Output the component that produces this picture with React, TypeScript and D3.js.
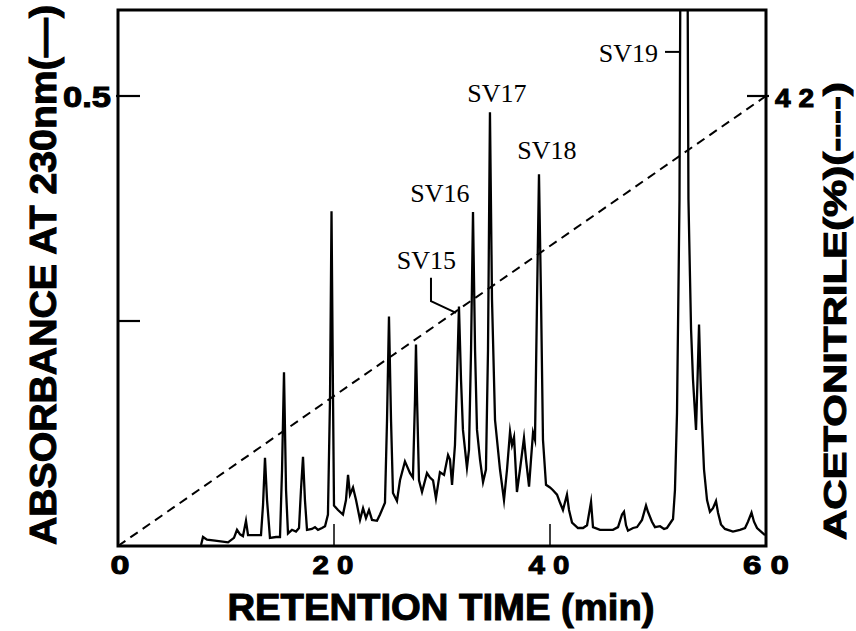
import React from "react";
import * as d3 from "d3";

// Chromatogram trace (retention time in min, absorbance at 230 nm)
const times = [
  7.69, 7.87, 8.24, 8.98, 10.19, 10.74, 11.02, 11.3, 11.57, 11.85, 12.04, 12.69, 13.24, 13.43, 13.61, 13.8,
  14.07, 14.63, 15.0, 15.19, 15.37, 15.56, 15.74, 16.11, 16.48, 16.76, 16.94, 17.13, 17.31, 17.5, 17.96,
  18.24, 18.52, 18.89, 19.17, 19.44, 19.63, 19.77, 19.91, 20.0, 20.37, 20.83, 21.11, 21.3, 21.48, 21.76,
  22.04, 22.41, 22.69, 22.96, 23.24, 23.52, 23.98, 24.26, 24.72, 24.91, 25.09, 25.28, 25.46, 25.83, 26.11,
  26.57, 27.04, 27.31, 27.5, 27.59, 27.69, 27.87, 28.15, 28.61, 28.89, 29.17, 29.44, 29.81, 30.19, 30.56,
  30.74, 30.93, 31.2, 31.39, 31.57, 31.76, 31.94, 32.31, 32.5, 32.69, 32.87, 33.06, 33.24, 33.52, 33.8,
  34.07, 34.26, 34.44, 34.63, 34.91, 35.37, 35.74, 36.02, 36.3, 36.48, 36.67, 36.94, 37.22, 37.59, 37.78,
  38.06, 38.24, 38.43, 38.61, 38.8, 38.98, 39.17, 39.35, 39.63, 40.0, 40.28, 40.65, 40.93, 41.2, 41.57,
  41.76, 42.04, 42.59, 43.06, 43.43, 43.8, 43.98, 44.63, 45.28, 45.83, 46.3, 46.67, 46.85, 47.04, 47.22,
  47.69, 48.06, 48.52, 48.89, 49.07, 49.44, 49.72, 50.19, 50.56, 50.83, 51.11, 51.39, 51.57, 51.76, 51.99,
  52.08, 52.73, 52.82, 52.96, 53.06, 53.24, 53.52, 53.66, 53.8, 53.94, 54.07, 54.26, 54.54, 54.81, 55.09,
  55.37, 55.56, 55.83, 56.2, 56.94, 57.59, 58.06, 58.33, 58.66, 58.89, 59.17, 59.54, 59.91,
];
const absorbance = [
  0.001, 0.01, 0.007, 0.006, 0.004, 0.009, 0.018, 0.013, 0.011, 0.028, 0.012, 0.012, 0.012, 0.046, 0.098, 0.051,
  0.009, 0.01, 0.01, 0.085, 0.193, 0.062, 0.014, 0.018, 0.016, 0.02, 0.062, 0.099, 0.051, 0.018, 0.019,
  0.021, 0.018, 0.02, 0.022, 0.035, 0.163, 0.372, 0.163, 0.045, 0.04, 0.035, 0.051, 0.079, 0.057, 0.065,
  0.051, 0.029, 0.042, 0.031, 0.04, 0.029, 0.028, 0.035, 0.048, 0.14, 0.255, 0.14, 0.059, 0.05, 0.073,
  0.094, 0.081, 0.076, 0.163, 0.224, 0.163, 0.073, 0.06, 0.081, 0.076, 0.073, 0.053, 0.082, 0.079, 0.101,
  0.096, 0.068, 0.112, 0.185, 0.266, 0.185, 0.129, 0.087, 0.107, 0.218, 0.371, 0.218, 0.129, 0.096, 0.071,
  0.085, 0.218, 0.482, 0.274, 0.14, 0.085, 0.051, 0.085, 0.127, 0.112, 0.121, 0.06, 0.085, 0.12, 0.096,
  0.066, 0.096, 0.126, 0.118, 0.274, 0.413, 0.274, 0.118, 0.068, 0.065, 0.062, 0.057, 0.048, 0.04, 0.057,
  0.04, 0.026, 0.02, 0.02, 0.023, 0.049, 0.021, 0.018, 0.018, 0.018, 0.021, 0.035, 0.038, 0.023, 0.017,
  0.02, 0.021, 0.029, 0.045, 0.038, 0.027, 0.021, 0.022, 0.019, 0.02, 0.025, 0.03, 0.062, 0.148, 0.385,
  0.66, 0.66, 0.385, 0.3, 0.241, 0.185, 0.129, 0.185, 0.246, 0.185, 0.137, 0.085, 0.051, 0.038, 0.042,
  0.05, 0.037, 0.024, 0.019, 0.016, 0.018, 0.02, 0.027, 0.037, 0.027, 0.02, 0.016, 0.012,
];

// Acetonitrile gradient (dashed)
const gradientTimes = [0, 60];
const gradientPercent = [0, 42];

// Axis ticks
const xTicks = [0, 20, 40, 60];
const xTickLabels = ["0", "2 0", "4 0", "6 0"];
const yTicks = [0.25, 0.5];
const yTickLabels = ["", "0.5"];
const rightTicks = [42];
const rightTickLabels = ["4 2"];

// Peak annotations (label anchor in data units)
const peakNames = ["SV15", "SV16", "SV17", "SV18", "SV19"];
const peakLabelTimes = [28.56, 29.81, 35.09, 39.72, 50.0];
const peakLabelAbs = [0.308, 0.382, 0.493, 0.43, 0.538];
const peakLabelAnchor = ["middle", "middle", "middle", "middle", "end"];
const sv15LeaderTimes = [28.98, 28.98, 31.3];
const sv15LeaderAbs = [0.298, 0.272, 0.259];
const sv19LeaderTimes = [50.65, 52.04];
const sv19LeaderAbs = [0.549, 0.549];

const W = 856;
const H = 631;
const left = 118;
const right = 766;
const bottom = 546;
const top = 10;

export default function App() {
  const x = d3.scaleLinear().domain([0, 60]).range([left, right]);
  const y = d3.scaleLinear().domain([0, 0.5]).range([bottom, 96]);
  const yr = d3.scaleLinear().domain([0, 42]).range([bottom, 96]);

  const trace = times.map((t, i) => [t, absorbance[i]] as [number, number]);
  const line = d3
    .line<[number, number]>()
    .x((d) => x(d[0]))
    .y((d) => y(d[1]));
  const gradLine = d3
    .line<[number, number]>()
    .x((d) => x(d[0]))
    .y((d) => yr(d[1]));
  const grad = gradientTimes.map((t, i) => [t, gradientPercent[i]] as [number, number]);
  const sv15 = sv15LeaderTimes.map((t, i) => [t, sv15LeaderAbs[i]] as [number, number]);
  const sv19 = sv19LeaderTimes.map((t, i) => [t, sv19LeaderAbs[i]] as [number, number]);

  const sans = "'Liberation Sans', Arial, sans-serif";
  const serif = "'Liberation Serif', 'Times New Roman', serif";
  const xLabelWidths = [19, 41, 41, 46];

  return (
    <svg
      width={W}
      height={H}
      style={{ position: "absolute", left: 0, top: 0, background: "#fff" }}
    >
      <defs>
        <clipPath id="plot">
          <rect x={left} y={top} width={right - left} height={bottom - top} />
        </clipPath>
      </defs>
      <rect x={0} y={0} width={W} height={H} fill="#fff" />

      {/* gradient */}
      <path
        d={gradLine(grad) || ""}
        fill="none"
        stroke="#000"
        strokeWidth={2}
        strokeDasharray="9,6"
      />

      {/* chromatogram */}
      <g clipPath="url(#plot)">
        <path
          d={line(trace) || ""}
          fill="none"
          stroke="#000"
          strokeWidth={2.3}
          strokeLinejoin="miter"
          strokeMiterlimit={10}
        />
      </g>

      {/* frame */}
      <rect
        x={left}
        y={top}
        width={right - left}
        height={bottom - top}
        fill="none"
        stroke="#000"
        strokeWidth={3}
      />

      {/* bottom ticks */}
      {xTicks.map((t, i) => (
        <g key={"xt" + i}>
          {t > 0 && t < 60 && (
            <line x1={x(t)} x2={x(t)} y1={bottom} y2={bottom - 22} stroke="#000" strokeWidth={1.5} />
          )}
          <text
            x={x(t) + (t === 0 ? 2 : t === 60 ? 0 : -1)}
            y={574}
            textAnchor="middle"
            fontFamily={sans}
            fontWeight="bold"
            fontSize={26}
            textLength={xLabelWidths[i]}
            lengthAdjust="spacingAndGlyphs"
            stroke="#000"
            strokeWidth={1}
          >
            {xTickLabels[i]}
          </text>
        </g>
      ))}

      {/* left ticks */}
      {yTicks.map((v, i) => (
        <g key={"yt" + i}>
          <line
            x1={v === 0.5 ? left - 2 : left}
            x2={left + 22}
            y1={y(v)}
            y2={y(v)}
            stroke="#000"
            strokeWidth={2.2}
          />
          {yTickLabels[i] && (
            <text
              x={111}
              y={y(v) + 11}
              textAnchor="end"
              fontFamily={sans}
              fontWeight="bold"
              fontSize={29}
              textLength={48}
              lengthAdjust="spacingAndGlyphs"
              stroke="#000"
              strokeWidth={1}
            >
              {yTickLabels[i]}
            </text>
          )}
        </g>
      ))}

      {/* right ticks */}
      {rightTicks.map((v, i) => (
        <g key={"rt" + i}>
          <line x1={right - 19} x2={right + 3} y1={yr(v)} y2={yr(v)} stroke="#000" strokeWidth={2.2} />
          <text
            x={775}
            y={yr(v) + 11}
            textAnchor="start"
            fontFamily={sans}
            fontWeight="bold"
            fontSize={26}
            textLength={39}
            lengthAdjust="spacingAndGlyphs"
            stroke="#000"
            strokeWidth={1}
          >
            {rightTickLabels[i]}
          </text>
        </g>
      ))}

      {/* peak labels */}
      {peakNames.map((n, i) => (
        <text
          key={n}
          x={x(peakLabelTimes[i])}
          y={y(peakLabelAbs[i])}
          textAnchor={peakLabelAnchor[i] as any}
          fontFamily={serif}
          fontSize={26}
          fill="#000"
        >
          {n}
        </text>
      ))}
      <path d={line(sv15) || ""} fill="none" stroke="#000" strokeWidth={2} />
      <path d={line(sv19) || ""} fill="none" stroke="#000" strokeWidth={2} />

      {/* axis titles */}
      <text
        x={441}
        y={620}
        textAnchor="middle"
        fontFamily={sans}
        fontWeight="bold"
        fontSize={36}
        textLength={427}
        lengthAdjust="spacingAndGlyphs"
        stroke="#000"
        strokeWidth={1}
      >
        RETENTION TIME (min)
      </text>
      <text
        transform="translate(56,275) rotate(-90)"
        textAnchor="middle"
        fontFamily={sans}
        fontWeight="bold"
        fontSize={36}
        textLength={540}
        lengthAdjust="spacingAndGlyphs"
        stroke="#000"
        strokeWidth={1}
      >
        ABSORBANCE AT 230nm(—)
      </text>
      <text
        transform="translate(846,311) rotate(-90)"
        textAnchor="middle"
        fontFamily={sans}
        fontWeight="bold"
        fontSize={32}
        textLength={458}
        lengthAdjust="spacingAndGlyphs"
        stroke="#000"
        strokeWidth={1}
      >
        ACETONITRILE(%)(----)
      </text>
    </svg>
  );
}
